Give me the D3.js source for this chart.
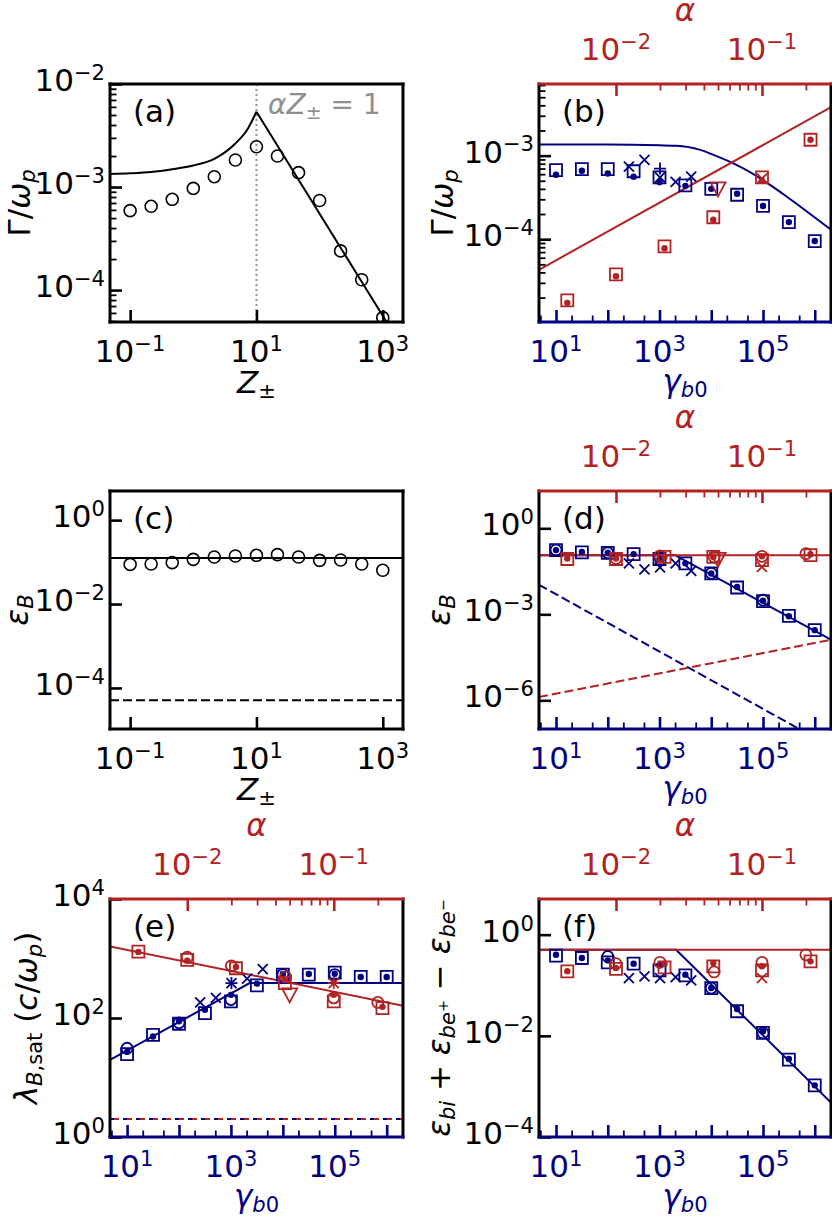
<!DOCTYPE html>
<html lang="en">
<head>
<meta charset="UTF-8">
<title>growth rate, saturation energy and wavelength</title>
<script src="https://cdn.jsdelivr.net/npm/d3@7"></script>
<style>
  body { margin: 0; background: #fff; }
  svg { display: block; font-family: "DejaVu Sans", sans-serif; }
</style>
</head>
<body>
<svg id="fig" width="832" height="1217"></svg>
<script>
// ---- data ----
// panels (a), (c): scan in Z±
const zSim = [0.1, 0.215, 0.464, 1, 2.15, 4.64, 10, 21.5, 46.4, 100, 215, 464, 1000];
const aGrowth = [5.9e-4, 6.5e-4, 7.6e-4, 9.7e-4, 1.26e-3, 1.83e-3, 2.46e-3, 2.0e-3, 1.38e-3, 7.4e-4, 2.4e-4, 1.26e-4, 5.4e-5];
const aCurveZ = [0.048, 0.1, 0.215, 0.464, 1, 2.15, 4.64, 7.1, 10];
const aCurveG = [1.34e-3, 1.36e-3, 1.40e-3, 1.49e-3, 1.62e-3, 1.88e-3, 2.65e-3, 3.57e-3, 5.38e-3];
const aSlopeZ = [10, 1150];
const aSlopeG = [5.38e-3, 4.9e-5];
const cEps = [0.088, 0.090, 0.097, 0.116, 0.132, 0.14, 0.145, 0.151, 0.132, 0.11, 0.112, 0.09, 0.064];
const cLineZ = [0.048, 2090];
const cTheory = [0.125, 0.125];
const cFloor = [5.1e-5, 5.1e-5];

// panels (b), (d), (e), (f): scans in gamma_b0 (blue) and alpha (red)
const gammaSim = [10, 31.6, 100, 316, 1000, 3160, 1e4, 3.16e4, 1e5, 3.16e5, 1e6];
const gammaScan = [256, 512, 1024, 2048, 4096];
const gammaCirc = [10, 100, 1000, 1e4, 1e5];
const gammaPlus = [1024];
const alphaSim = [0.00464, 0.01, 0.0215, 0.0464, 0.1, 0.215];
const alphaCirc = [0.01, 0.02, 0.047, 0.1, 0.2];
const alphaTri = [0.05];
const alphaCross = [0.1];

const bBlueSq = [6.7e-4, 6.9e-4, 6.9e-4, 6.5e-4, 5.5e-4, 4.4e-4, 4.0e-4, 3.4e-4, 2.5e-4, 1.6e-4, 9.5e-5];
const bBlueDot = [5.9e-4, 6.6e-4, 6.1e-4, 5.6e-4, 4.8e-4, 4.35e-4, 4.0e-4, 3.5e-4, 2.5e-4, 1.6e-4, 9.5e-5];
const bBlueScan = [7.4e-4, 8.9e-4, 5.5e-4, 4.85e-4, 5.6e-4];
const bBluePlus = [7.0e-4];
const bRedSq = [1.85e-5, 3.8e-5, 8.2e-5, 1.83e-4, 5.5e-4, 1.55e-3];
const bRedDot = [1.73e-5, 3.6e-5, 7.8e-5, 1.71e-4, 5.0e-4, 1.55e-3];
const bRedTri = [4.0e-4];
const bRedCross = [5.3e-4];
const bCurveGamma = [4.69, 100, 1000, 2100, 5900, 12000, 30000, 55000, 240000, 1050000, 2060000];
const bCurveG = [1.36e-3, 1.36e-3, 1.33e-3, 1.31e-3, 1.18e-3, 1.0e-3, 7.8e-4, 6.4e-4, 3.5e-4, 1.78e-4, 1.3e-4];
const bLineAlpha = [0.00297, 0.297];
const bLineG = [4.3e-5, 3.8e-3];

const dBlueSq = [0.174, 0.145, 0.14, 0.126, 0.085, 0.06, 0.0266, 0.0086, 0.0029, 8.8e-4, 2.8e-4];
const dBlueDot = [0.174, 0.15, 0.14, 0.126, 0.085, 0.06, 0.0266, 0.009, 0.003, 8.6e-4, 2.8e-4];
const dBlueCirc = [0.174, 0.14, 0.1, 0.027, 0.0031];
const dBlueScan = [0.06, 0.037, 0.043, 0.06, 0.033];
const dRedSq = [0.085, 0.085, 0.10, 0.10, 0.078, 0.116];
const dRedDot = [0.088, 0.088, 0.10, 0.10, 0.105, 0.125];
const dRedCirc = [0.088, 0.11, 0.1, 0.105, 0.13];
const dRedTri = [0.083];
const dRedCross = [0.045];
const dBlueLineGamma = [4.69, 2000, 2060000];
const dBlueLineEps = [0.116, 0.116, 1.3e-4];
const dRedLineAlpha = [0.00297, 0.297];
const dRedLineEps = [0.116, 0.116];
const dBlueDashGamma = [4.69, 2060000];
const dBlueDashEps = [0.0107, 2.44e-8];
const dRedDashAlpha = [0.00297, 0.297];
const dRedDashEps = [1.3e-6, 1.3e-4];

const eBlueSq = [24.7, 52, 80, 121, 190, 354, 537, 537, 580, 490, 490];
const eBlueDot = [27, 49, 88, 138, 245, 378, 550, 550, 554, 490, 490];
const eBlueCirc = [31, 83, 204, 537, 537];
const eBlueScan = [183, 218, 386, 460, 660];
const eBluePlus = [386];
const eRedSq = [1306, 946, 686, 386, 190, 147];
const eRedDot = [1290, 920, 720, 436, 245, 154];
const eRedCirc = [1050, 752, 490, 218, 183];
const eRedTri = [245];
const eRedCross = [386];
const eBlueLineGamma = [4.69, 2300, 2060000];
const eBlueLineLam = [19.7, 386, 386];
const eRedLineAlpha = [0.00297, 0.297];
const eRedLineLam = [1600, 160];
const eFloorLam = [2, 2];

const fBlueSq = [0.385, 0.346, 0.284, 0.267, 0.197, 0.157, 0.088, 0.0306, 0.0114, 0.0034, 1.05e-3];
const fBlueDot = [0.40, 0.346, 0.31, 0.267, 0.248, 0.162, 0.088, 0.034, 0.0123, 0.0035, 1.05e-3];
const fBlueCirc = [null, 0.37, null, 0.088, 0.0114];
const fBlueScan = [0.139, 0.15, 0.139, 0.145, 0.125];
const fRedSq = [0.188, 0.21, 0.226, 0.237, 0.197, 0.297];
const fRedDot = [0.19, 0.22, 0.267, 0.275, 0.237, 0.297];
const fRedCirc = [0.267, 0.284, 0.183, 0.284, 0.40];
const fRedCross = [0.139];
const fBlueLineGamma = [4.69, 2090, 2060000];
const fBlueLineEps = [0.505, 0.505, 4.8e-4];
const fRedLineAlpha = [0.00297, 0.297];
const fRedLineEps = [0.505, 0.505];

// axis ranges and tick labels (exponents of 10)
const zDomain = [0.048, 2090];
const gammaDomain = [4.69, 2.06e6];
const alphaDomain = [0.00297, 0.297];
const zTickExp = [-1, 1, 3];
const gammaMajorExp = [1, 2, 3, 4, 5, 6];
const gammaLabelExp = [1, 3, 5];
const alphaLabelExp = [-2, -1];
const aYExp = [-2, -3, -4];
const bYExp = [-3, -4];
const cYExp = [0, -2, -4];
const dYExp = [0, -3, -6];
const eYExp = [4, 2, 0];
const fYExp = [0, -2, -4];

// ---- style ----
const NAVY = "#000080", RED = "#b22222", GREY = "#8f8f8f";
const FS = 31, SHRINK = 0.68;
const svg = d3.select("#fig");
svg.append("rect").attr("width", 832).attr("height", 1217).attr("fill", "#fff");

const COLS = [[110, 403], [539, 831]];
const ROWS = [[84, 322], [491, 729], [899, 1137]];

// text with mathtext-like pieces: [string, flags] i=italic b=sub p=sup
function mtext(parent, x, y, segs, o = {}) {
  const fs = o.size || FS;
  const t = parent.append("text").attr("x", x).attr("y", y)
    .attr("text-anchor", o.anchor || "start").attr("fill", o.color || "#000")
    .attr("font-size", fs).style("white-space", "pre");
  if (o.rot) t.attr("transform", `rotate(-90,${x},${y})`);
  let cur = 0;
  for (const [str, f = ""] of segs) {
    let shift = 0, k = 1;
    if (f.includes("b") && f.includes("p")) { shift = -0.08; k = SHRINK * SHRINK; }
    else if (f.includes("b")) { shift = 0.17; k = SHRINK; }
    else if (f.includes("p")) { shift = -0.36; k = SHRINK; }
    const ts = t.append("tspan").text(str).attr("font-size", fs * k).attr("dy", ((shift - cur) * fs).toFixed(2));
    if (f.includes("i")) ts.attr("font-style", "italic");
    cur = shift;
  }
  return t;
}
const pow10 = n => [["10"], [(n < 0 ? "\u2212" + (-n) : String(n)), "p"]];

const LAB_GAMMA = [["Γ"], ["/"], ["ω", "i"], ["p", "ib"]];
const LAB_Z = [["Z", "i"], ["±", "b"]];
const LAB_EPSB = [["ε", "i"], ["B", "ib"]];
const LAB_GB0 = [["γ", "i"], ["b", "ib"], ["0", "b"]];
const LAB_ALPHA = [["α", "i"]];
const LAB_LAM = [["λ", "i"], ["B", "ib"], [",sat", "b"], [" ("], ["c", "i"], ["/"], ["ω", "i"], ["p", "ib"], [")"]];
const LAB_ESUM = [["ε", "i"], ["bi", "ib"], [" + "], ["ε", "i"], ["be", "ib"], ["+", "bp"], [" \u2212 "],
                  ["ε", "i"], ["be", "ib"], ["\u2212", "bp"]];

function minors(domain, mults) {
  const out = [];
  const lo = Math.min(...domain), hi = Math.max(...domain);
  for (let e = Math.floor(Math.log10(lo)); e <= Math.ceil(Math.log10(hi)); e++)
    for (const m of mults) { const v = m * Math.pow(10, e); if (v >= lo && v <= hi) out.push(v); }
  return out;
}

function ticks(g, scale, orient, pos, values, len, color, w) {
  const gen = orient === "left" ? d3.axisLeft(scale) : orient === "top" ? d3.axisTop(scale) : d3.axisBottom(scale);
  gen.tickValues(values).tickSize(-len).tickFormat("");
  const tr = orient === "left" ? `translate(${pos},0)` : `translate(0,${pos})`;
  const a = g.append("g").attr("transform", tr).call(gen);
  a.select(".domain").remove();
  a.selectAll(".tick line").attr("stroke", color).attr("stroke-width", w);
  a.selectAll(".tick text").remove();
}

let clipN = 0;
function panel(col, row, x, y) {
  const [L, R] = COLS[col], [T, B] = ROWS[row];
  x.range([L, R]); y.range([B, T]);
  const g = svg.append("g");
  const id = "clip" + (clipN++);
  svg.append("clipPath").attr("id", id).append("rect").attr("x", L).attr("y", T).attr("width", R - L).attr("height", B - T);
  const data = g.append("g").attr("clip-path", `url(#${id})`);
  const fr = g.append("g");
  return { L, R, T, B, x, y, data, fr, g };
}

function frame(p, o) {
  const { L, R, T, B, fr } = p;
  const yMaj = o.yExp.map(e => Math.pow(10, e));
  ticks(fr, p.y, "left", L, yMaj, 12, "#000", 2.6);
  if (o.yMinor) ticks(fr, p.y, "left", L, minors(p.y.domain(), [2, 3, 4, 5, 6, 7, 8, 9]), 6.5, "#000", 1.8);
  o.yExp.forEach(e => {
    const py = p.y(Math.pow(10, e));
    if (py >= T - 1 && py <= B + 1) mtext(fr, L - 5, py + 7, pow10(e), { anchor: "end" });
  });
  const xcol = o.gamma ? NAVY : "#000";
  if (o.gamma) {
    ticks(fr, p.x, "bottom", B, gammaMajorExp.map(e => Math.pow(10, e)), 12, NAVY, 2.6);
    ticks(fr, p.x, "bottom", B, minors(gammaDomain, [2, 5]), 6.5, NAVY, 1.8);
    gammaLabelExp.forEach(e => mtext(fr, p.x(Math.pow(10, e)), B + 40, pow10(e), { anchor: "middle", color: NAVY }));
    mtext(fr, (L + R) / 2, B + 70, LAB_GB0, { anchor: "middle", color: NAVY });
    ticks(fr, p.xa, "top", T, alphaLabelExp.map(e => Math.pow(10, e)), 12, RED, 2.6);
    ticks(fr, p.xa, "top", T, minors(alphaDomain, [2, 3, 4, 5, 6, 7, 8, 9]).filter(v => v > 0.011), 6.5, RED, 1.8);
    alphaLabelExp.forEach(e => mtext(fr, p.xa(Math.pow(10, e)), T - 24, pow10(e), { anchor: "middle", color: RED }));
    mtext(fr, (L + R) / 2, T - 63, LAB_ALPHA, { anchor: "middle", color: RED });
  } else {
    ticks(fr, p.x, "bottom", B, zTickExp.map(e => Math.pow(10, e)), 12, "#000", 2.6);
    zTickExp.forEach(e => mtext(fr, p.x(Math.pow(10, e)), B + 40, pow10(e), { anchor: "middle" }));
    mtext(fr, (L + R) / 2, B + 71, LAB_Z, { anchor: "middle" });
  }
  const sp = (x1, y1, x2, y2, c) => fr.append("line").attr("x1", x1).attr("y1", y1).attr("x2", x2).attr("y2", y2)
    .attr("stroke", c).attr("stroke-width", 3).attr("stroke-linecap", "square");
  sp(L, T, L, B, "#000");
  sp(R, T, R, B, "#000");
  sp(L, T, R, T, o.gamma ? RED : "#000");
  sp(L, B, R, B, xcol);
  mtext(fr, o.ylx, (T + B) / 2, o.ylab, { anchor: "middle", rot: true });
  mtext(fr, L + 23, T + 38, [["(" + o.tag + ")"]]);
}

const SHAPES = {
  sq: "M-6,-6H6V6H-6Z",
  circ: "M5.5,0A5.5,5.5 0 1 1 -5.5,0A5.5,5.5 0 1 1 5.5,0Z",
  big: "M6,0A6,6 0 1 1 -6,0A6,6 0 1 1 6,0Z",
  dot: "M3.2,0A3.2,3.2 0 1 1 -3.2,0A3.2,3.2 0 1 1 3.2,0Z",
  x: "M-5,-5L5,5M-5,5L5,-5",
  plus: "M-6,0H6M0,-6V6",
  tri: "M-7.5,-6.5H7.5L0,7.5Z"
};
function marks(p, sx, xs, ys, kind, color) {
  const pts = xs.map((v, i) => [v, ys[i]]).filter(d => d[1] != null);
  const filled = kind === "dot";
  p.data.append("g").selectAll("path").data(pts).join("path")
    .attr("transform", d => `translate(${sx(d[0])},${p.y(d[1])})`)
    .attr("d", SHAPES[kind])
    .attr("fill", filled ? color : "none")
    .attr("stroke", filled ? "none" : color)
    .attr("stroke-width", kind === "big" ? 1.6 : 1.8);
}
function line(p, sx, xs, ys, color, dash, curve) {
  const pts = xs.map((v, i) => [v, ys[i]]);
  p.data.append("path").datum(pts)
    .attr("d", d3.line().x(d => sx(d[0])).y(d => p.y(d[1])).curve(curve || d3.curveLinear))
    .attr("fill", "none").attr("stroke", color).attr("stroke-width", 2)
    .attr("stroke-dasharray", dash || null);
}

// ---- (a) ----
{
  const p = panel(0, 0, d3.scaleLog().domain(zDomain), d3.scaleLog().domain([4.9e-5, 1e-2]));
  p.data.append("line").attr("x1", p.x(10)).attr("x2", p.x(10)).attr("y1", p.T).attr("y2", p.B)
    .attr("stroke", GREY).attr("stroke-width", 2).attr("stroke-dasharray", "2,3");
  line(p, p.x, aCurveZ, aCurveG, "#000", null, d3.curveMonotoneX);
  line(p, p.x, aSlopeZ, aSlopeG, "#000");
  marks(p, p.x, zSim, aGrowth, "big", "#000");
  frame(p, { yExp: aYExp, yMinor: true, ylab: LAB_GAMMA, ylx: 30, tag: "a" });
  mtext(p.fr, 268, 114, [["α", "i"], ["Z", "i"], ["±", "b"], [" = 1"]], { color: GREY, size: 28 });
}

// ---- (c) ----
{
  const p = panel(0, 1, d3.scaleLog().domain(zDomain), d3.scaleLog().domain([1.05e-5, 4.95]));
  line(p, p.x, cLineZ, cTheory, "#000");
  line(p, p.x, cLineZ, cFloor, "#000", "9,4");
  marks(p, p.x, zSim, cEps, "big", "#000");
  frame(p, { yExp: cYExp, ylab: LAB_EPSB, ylx: 28, tag: "c" });
}

function gammaPanel(col, row, yDom) {
  const p = panel(col, row, d3.scaleLog().domain(gammaDomain), d3.scaleLog().domain(yDom));
  p.xa = d3.scaleLog().domain(alphaDomain).range([p.L, p.R]);
  return p;
}

// ---- (b) ----
{
  const p = gammaPanel(1, 0, [1.02e-5, 7.2e-3]);
  line(p, p.x, bCurveGamma, bCurveG, NAVY, null, d3.curveMonotoneX);
  line(p, p.xa, bLineAlpha, bLineG, RED);
  marks(p, p.x, gammaSim, bBlueSq, "sq", NAVY);
  marks(p, p.x, gammaSim, bBlueDot, "dot", NAVY);
  marks(p, p.x, gammaScan, bBlueScan, "x", NAVY);
  marks(p, p.x, gammaPlus, bBluePlus, "plus", NAVY);
  marks(p, p.xa, alphaSim, bRedSq, "sq", RED);
  marks(p, p.xa, alphaSim, bRedDot, "dot", RED);
  marks(p, p.xa, alphaTri, bRedTri, "tri", RED);
  marks(p, p.xa, alphaCross, bRedCross, "x", RED);
  frame(p, { gamma: true, yExp: bYExp, yMinor: true, ylab: LAB_GAMMA, ylx: 453, tag: "b" });
}

// ---- (d) ----
{
  const p = gammaPanel(1, 1, [1e-7, 20]);
  line(p, p.x, dBlueDashGamma, dBlueDashEps, NAVY, "9,4");
  line(p, p.xa, dRedDashAlpha, dRedDashEps, RED, "9,4");
  line(p, p.x, dBlueLineGamma, dBlueLineEps, NAVY);
  line(p, p.xa, dRedLineAlpha, dRedLineEps, RED);
  marks(p, p.x, gammaSim, dBlueSq, "sq", NAVY);
  marks(p, p.x, gammaSim, dBlueDot, "dot", NAVY);
  marks(p, p.x, gammaCirc, dBlueCirc, "circ", NAVY);
  marks(p, p.x, gammaScan, dBlueScan, "x", NAVY);
  marks(p, p.xa, alphaSim, dRedSq, "sq", RED);
  marks(p, p.xa, alphaSim, dRedDot, "dot", RED);
  marks(p, p.xa, alphaCirc, dRedCirc, "circ", RED);
  marks(p, p.xa, alphaTri, dRedTri, "tri", RED);
  marks(p, p.xa, alphaCross, dRedCross, "x", RED);
  frame(p, { gamma: true, yExp: dYExp, ylab: LAB_EPSB, ylx: 450, tag: "d" });
}

// ---- (e) ----
{
  const p = gammaPanel(0, 2, [1, 1e4]);
  line(p, p.xa, eRedLineAlpha, eFloorLam, RED, "9,4");
  line(p, p.x, gammaDomain, eFloorLam, NAVY, "4,9");
  line(p, p.x, eBlueLineGamma, eBlueLineLam, NAVY);
  line(p, p.xa, eRedLineAlpha, eRedLineLam, RED);
  marks(p, p.x, gammaSim, eBlueSq, "sq", NAVY);
  marks(p, p.x, gammaSim, eBlueDot, "dot", NAVY);
  marks(p, p.x, gammaCirc, eBlueCirc, "circ", NAVY);
  marks(p, p.x, gammaScan, eBlueScan, "x", NAVY);
  marks(p, p.x, gammaPlus, eBluePlus, "plus", NAVY);
  marks(p, p.xa, alphaSim, eRedSq, "sq", RED);
  marks(p, p.xa, alphaSim, eRedDot, "dot", RED);
  marks(p, p.xa, alphaCirc, eRedCirc, "circ", RED);
  marks(p, p.xa, alphaTri, eRedTri, "tri", RED);
  marks(p, p.xa, alphaCross, eRedCross, "x", RED);
  marks(p, p.xa, alphaCross, eRedCross, "plus", RED);
  frame(p, { gamma: true, yExp: eYExp, ylab: LAB_LAM, ylx: 37, tag: "e" });
}

// ---- (f) ----
{
  const p = gammaPanel(1, 2, [1e-4, 5.07]);
  line(p, p.x, fBlueLineGamma, fBlueLineEps, NAVY);
  line(p, p.xa, fRedLineAlpha, fRedLineEps, RED);
  marks(p, p.x, gammaSim, fBlueSq, "sq", NAVY);
  marks(p, p.x, gammaSim, fBlueDot, "dot", NAVY);
  marks(p, p.x, gammaCirc, fBlueCirc, "circ", NAVY);
  marks(p, p.x, gammaScan, fBlueScan, "x", NAVY);
  marks(p, p.xa, alphaSim, fRedSq, "sq", RED);
  marks(p, p.xa, alphaSim, fRedDot, "dot", RED);
  marks(p, p.xa, alphaCirc, fRedCirc, "circ", RED);
  marks(p, p.xa, alphaCross, fRedCross, "x", RED);
  frame(p, { gamma: true, yExp: fYExp, ylab: LAB_ESUM, ylx: 450, tag: "f" });
}
</script>
</body>
</html>
